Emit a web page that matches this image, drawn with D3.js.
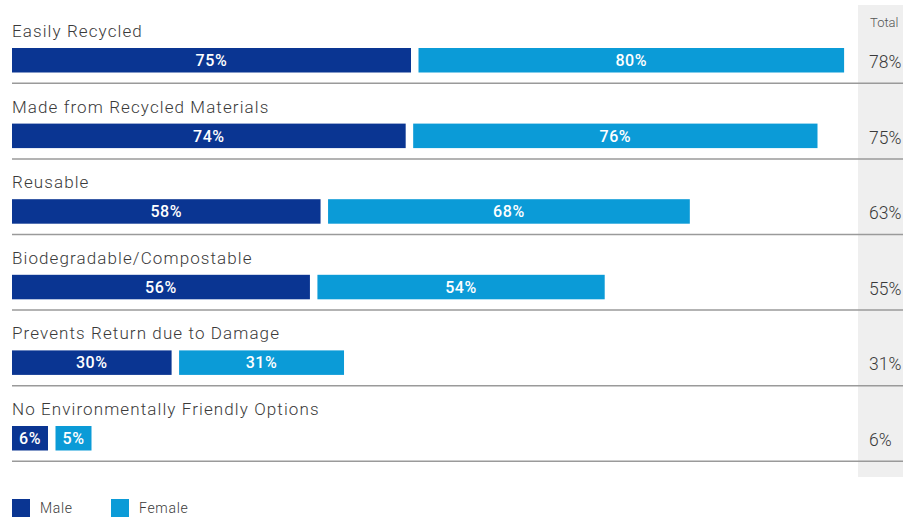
<!DOCTYPE html>
<html>
<head>
<meta charset="utf-8">
<script src="https://cdn.jsdelivr.net/npm/d3@7"></script>
<style>
  body { margin: 0; background: #fff; }
  text { font-family: Roboto, "Open Sans", sans-serif; }
</style>
</head>
<body>
<div class="canvas"></div>
<script>
const categories = [
    'Easily Recycled',
    'Made from Recycled Materials',
    'Reusable',
    'Biodegradable/Compostable',
    'Prevents Return due to Damage',
    'No Environmentally Friendly Options'
]
const male = [75, 74, 58, 56, 30, 6]
const female = [80, 76, 68, 54, 31, 5]
const total = [78, 75, 63, 55, 31, 6]
const seriesNames = ['Male', 'Female']

const colors = { Male: '#0a3592', Female: '#0b9bd7' }

const W = 903, H = 517
const svg = d3.select('.canvas').append('svg').attr('width', W).attr('height', H)

const left = 12
const gap = 7.5
const rowH = 75.6
const top0 = 7.5
const minW = 36

// percent -> width
const x = d3.scaleLinear().domain([0, 100]).range([0, 532])
const barW = v => Math.max(x(v), minW)

const y = d3.scaleBand()
    .domain(categories)
    .range([top0, top0 + rowH * categories.length])

// total column background
svg.append('rect')
    .attr('x', 858).attr('y', 5)
    .attr('width', W - 858).attr('height', 472)
    .attr('fill', '#efefef')

svg.append('text')
    .attr('x', 870).attr('y', 27)
    .attr('font-size', 13).attr('font-weight', 300).attr('fill', '#555')
    .text('Total')

const rows = svg.selectAll('g.row')
    .data(categories.map((c, i) => ({ cat: c, m: male[i], f: female[i], t: total[i] })))
    .enter()
    .append('g')
    .attr('class', 'row')
    .attr('transform', d => `translate(0, ${y(d.cat)})`)

rows.append('text')
    .attr('x', left).attr('y', 29.5)
    .attr('font-size', 17).attr('font-weight', 300).attr('letter-spacing', 1.1).attr('fill', '#3a3a3a')
    .text(d => d.cat)

// male bars
rows.append('rect')
    .attr('x', left).attr('y', 40.5)
    .attr('width', d => barW(d.m)).attr('height', 24.5)
    .attr('fill', colors.Male)

rows.append('text')
    .attr('x', d => left + barW(d.m) / 2).attr('y', 58.5)
    .attr('text-anchor', 'middle')
    .attr('font-size', 16).attr('font-weight', 500).attr('letter-spacing', 0.6).attr('fill', '#fff')
    .text(d => d.m + '%')

// female bars
rows.append('rect')
    .attr('x', d => left + barW(d.m) + gap).attr('y', 40.5)
    .attr('width', d => barW(d.f)).attr('height', 24.5)
    .attr('fill', colors.Female)

rows.append('text')
    .attr('x', d => left + barW(d.m) + gap + barW(d.f) / 2).attr('y', 58.5)
    .attr('text-anchor', 'middle')
    .attr('font-size', 16).attr('font-weight', 500).attr('letter-spacing', 0.6).attr('fill', '#fff')
    .text(d => d.f + '%')

// totals
rows.append('text')
    .attr('x', 869).attr('y', 60.5)
    .attr('font-size', 17.5).attr('font-weight', 300).attr('fill', '#3a3a3a')
    .text(d => d.t + '%')

// separators
rows.append('line')
    .attr('x1', left).attr('x2', W)
    .attr('y1', 75.8).attr('y2', 75.8)
    .attr('stroke', '#9a9a9a').attr('stroke-width', 1.5)

// legend
const legend = svg.selectAll('g.legend')
    .data(seriesNames)
    .enter()
    .append('g')
    .attr('class', 'legend')
    .attr('transform', (d, i) => `translate(${12 + i * 99}, 499)`)

legend.append('rect')
    .attr('width', 18).attr('height', 18)
    .attr('fill', d => colors[d])

legend.append('text')
    .attr('x', 28).attr('y', 14)
    .attr('font-size', 14).attr('font-weight', 300).attr('letter-spacing', 0.7).attr('fill', '#3a3a3a')
    .text(d => d)
</script>
</body>
</html>
